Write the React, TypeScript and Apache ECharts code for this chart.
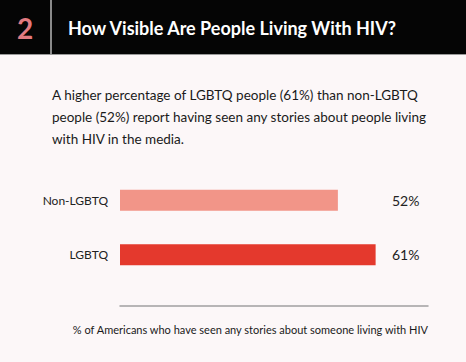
import React, { useEffect, useRef } from 'react';
import * as echarts from 'echarts';

const categories = ['Non-LGBTQ', 'LGBTQ'];
const values = [52, 61];
const barColors = ['#f29588', '#e4392d'];
const valueLabels = values.map((v) => `${v}%`);
const headerNumber = '2';
const headerTitle = 'How Visible Are People Living With HIV?';
const paragraphLines = [
  'A higher percentage of LGBTQ people (61%) than non-LGBTQ',
  'people (52%) report having seen any stories about people living',
  'with HIV in the media.',
];
const axisCaption = '% of Americans who have seen any stories about someone living with HIV';

const FONT = 'Lato, "Noto Sans", sans-serif';

export default function App() {
  const ref = useRef<HTMLDivElement>(null);
  useEffect(() => {
    document.body.style.margin = '0';
    const chart = echarts.init(ref.current!, null, { renderer: 'svg' });
    const graphics: any[] = [
      { type: 'rect', shape: { x: 0, y: 0, width: 466, height: 54 }, style: { fill: '#050505' } },
      { type: 'rect', shape: { x: 0, y: 54, width: 466, height: 1 }, style: { fill: '#9a9a9a' } },
      { type: 'rect', shape: { x: 50, y: 0, width: 2, height: 54 }, style: { fill: '#8a8a8a' } },
      {
        type: 'text', x: 25, y: 28,
        style: { text: headerNumber, fill: '#e27a80', font: `bold 28px ${FONT}`, textAlign: 'center', textVerticalAlign: 'middle' },
      },
      {
        type: 'text', x: 68, y: 28,
        style: { text: headerTitle, fill: '#ffffff', font: `bold 18px ${FONT}`, textAlign: 'left', textVerticalAlign: 'middle' },
      },
      ...paragraphLines.map((line, i) => ({
        type: 'text', x: 52, y: 95 + i * 22,
        style: { text: line, fill: '#1a1a1a', font: `13.5px ${FONT}`, textAlign: 'left', textVerticalAlign: 'middle' },
      })),
      {
        type: 'text', x: 428, y: 329,
        style: { text: axisCaption, fill: '#1a1a1a', font: `11px ${FONT}`, textAlign: 'right', textVerticalAlign: 'middle' },
      },
    ];
    chart.setOption({
      animation: false,
      backgroundColor: '#fcf7f8',
      grid: { left: 120, right: 38, top: 173, height: 109, containLabel: false },
      xAxis: {
        type: 'value', min: 0, max: 73.5, offset: 24,
        axisLine: { show: true, lineStyle: { color: '#a0a0a0', width: 1.5 } },
        axisTick: { show: false }, axisLabel: { show: false }, splitLine: { show: false },
      },
      yAxis: [
        {
          type: 'category', inverse: true, data: categories,
          axisLine: { show: false }, axisTick: { show: false },
          axisLabel: { margin: 12, fontSize: 12, color: '#222', fontFamily: FONT },
        },
        {
          type: 'category', inverse: true, position: 'right', data: valueLabels,
          axisLine: { show: false }, axisTick: { show: false },
          axisLabel: { margin: -36, fontSize: 14, color: '#222', fontFamily: FONT, align: 'left' },
        },
      ],
      series: [
        {
          type: 'bar', barWidth: 21,
          data: values.map((v, i) => ({ value: v, itemStyle: { color: barColors[i] } })),
        },
      ],
      graphic: graphics,
    });
    return () => chart.dispose();
  }, []);
  return <div ref={ref} style={{ width: 466, height: 362 }} />;
}
